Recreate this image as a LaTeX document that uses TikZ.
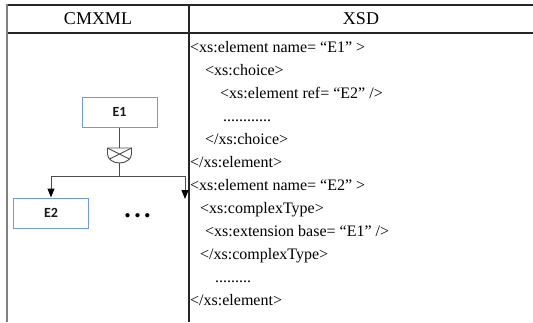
\documentclass[tikz,border=0pt]{standalone}
\usepackage{fontspec}
\setmainfont{Liberation Serif}
\newfontfamily\boxfont{Carlito}
\usetikzlibrary{arrows.meta}
\begin{document}
\begin{tikzpicture}[x=1pt,y=-1pt,
  tabline/.style={line width=1.5pt, draw=black!85},
  sideline/.style={line width=2pt, draw=black!50},
  head/.style={inner sep=0pt, font=\fontsize{18}{18}\selectfont},
  xsd/.style={anchor=base west, inner sep=0pt, font=\fontsize{16}{16}\selectfont},
  ebox/.style={draw=boxblue, line width=1pt, minimum width=75pt, minimum height=30pt, inner sep=0pt,
               font=\boxfont\bfseries\fontsize{14}{14}\selectfont, text=black!90},
  conn/.style={draw=black!70, line width=1pt},
  arr/.style={conn, -{Triangle[width=7pt,length=9pt,color=black,fill=black]}}]
\definecolor{boxblue}{HTML}{6F9BD6}
\useasboundingbox (0,0) rectangle (533,322);
% table
\draw[tabline] (7,5) -- (533,5);
\draw[tabline] (7,33) -- (533,33);
\draw[sideline] (7,4) -- (7,322);
\draw[tabline] (189,5) -- (189,322);
\node[head] (h1) at (98,19) {CMXML};
\node[head] (h2) at (361,19) {XSD};
% diagram
\node[ebox] (e1) at (119.5,112) {E1};
\node[ebox] (e2) at (51,213) {E2};
\coordinate (chtop) at (119.5,148);
\coordinate (chbot) at (119.5,163);
\draw[conn] (e1.south) -- (chtop);
\draw[conn, line width=0.9pt] (107.5,148) -- (131.5,148) -- (131.5,154) arc[start angle=0, end angle=180, x radius=12, y radius=9] -- cycle;
\draw[conn, line width=0.9pt] (107.5,148) -- (129.5,159) (131.5,148) -- (109.5,159);
\coordinate (jn) at (119.5,176);
\coordinate (jl) at (51,176);
\coordinate (jr) at (185,176);
\coordinate (rt) at (185,199);
\draw[conn] (chbot) -- (jn);
\draw[conn] (jl) -- (jr);
\draw[arr] (jl) -- (e2.north);
\draw[arr] (jr) -- (rt);
\node[inner sep=0pt, font=\boxfont\bfseries\fontsize{10}{10}\selectfont] (dots) at (137.5,216) {\textbullet\hspace{5pt}\textbullet\hspace{5pt}\textbullet};
% xsd text
\node[xsd] (l1) at (190,52) {<xs:element name= “E1” >};
\node[xsd] (l2) at (205,75) {<xs:choice>};
\node[xsd] (l3) at (220,98) {<xs:element ref= “E2” />};
\node[xsd] (l4) at (223,121) {............};
\node[xsd] (l5) at (205,144) {</xs:choice>};
\node[xsd] (l6) at (190,167) {</xs:element>};
\node[xsd] (l7) at (190,190) {<xs:element name= “E2” >};
\node[xsd] (l8) at (200,213) {<xs:complexType>};
\node[xsd] (l9) at (205,236) {<xs:extension base= “E1” />};
\node[xsd] (l10) at (200,259) {</xs:complexType>};
\node[xsd] (l11) at (215,282) {.........};
\node[xsd] (l12) at (190,305) {</xs:element>};
\end{tikzpicture}
\end{document}
